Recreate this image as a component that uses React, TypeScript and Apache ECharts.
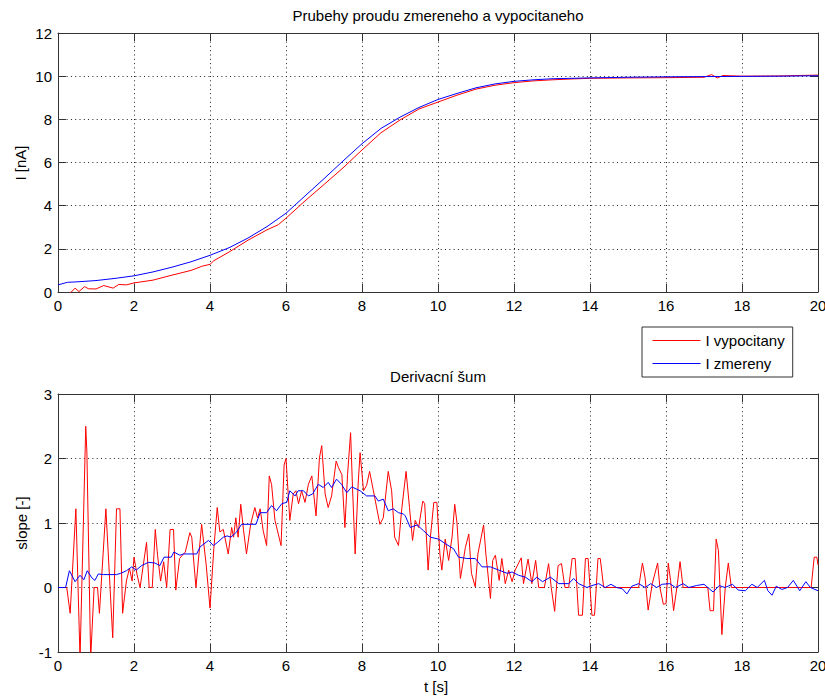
import React, { useEffect, useRef } from "react";
import * as echarts from "echarts";

// ---- Top plot: current (I [nA]) ----
const topBlueT = [0, 0.25, 0.5, 1, 1.5, 2, 2.5, 3, 3.5, 4, 4.5, 5, 5.5, 6, 6.5, 7, 7.5, 8, 8.5, 9, 9.5, 10, 10.5, 11, 11.5, 12, 12.5, 13, 14, 15, 16, 17, 18, 19, 20];
const topBlueV = [0.33, 0.45, 0.47, 0.53, 0.63, 0.75, 0.93, 1.15, 1.4, 1.7, 2.05, 2.5, 3.03, 3.65, 4.45, 5.25, 6.07, 6.87, 7.58, 8.1, 8.55, 8.92, 9.2, 9.46, 9.64, 9.76, 9.83, 9.88, 9.92, 9.95, 9.97, 9.98, 9.99, 10.0, 10.02];

const topRedT = [0, 0.2, 0.35, 0.45, 0.55, 0.7, 0.8, 1.0, 1.2, 1.45, 1.6, 1.8, 2, 2.5, 3, 3.5, 3.8, 4, 4.1, 4.5, 5, 5.5, 5.8, 6, 6.5, 7, 7.5, 8, 8.5, 9, 9.5, 10, 10.5, 11, 11.5, 12, 12.5, 13, 13.5, 14, 15, 16, 17, 17.2, 17.35, 17.5, 18, 19, 20];
const topRedV = [-0.3, -0.15, 0, 0.18, 0.02, 0.25, 0.15, 0.14, 0.3, 0.18, 0.35, 0.33, 0.42, 0.55, 0.78, 1.0, 1.2, 1.28, 1.45, 1.85, 2.4, 2.88, 3.12, 3.42, 4.22, 4.98, 5.75, 6.58, 7.38, 7.97, 8.48, 8.8, 9.12, 9.4, 9.58, 9.7, 9.78, 9.83, 9.87, 9.9, 9.92, 9.93, 9.95, 10.07, 9.92, 10.03, 10.0, 10.01, 10.05];

// ---- Bottom plot: slope ----
const slopeRedT = [0, 0.23, 0.32, 0.47, 0.58, 0.73, 0.76, 0.86, 0.95, 1.04, 1.09, 1.26, 1.44, 1.54, 1.63, 1.7, 1.8, 1.88, 1.95, 2.0, 2.08, 2.16, 2.33, 2.4, 2.48, 2.56, 2.62, 2.7, 2.78, 2.86, 2.95, 3.04, 3.1, 3.2, 3.35, 3.47, 3.52, 3.63, 3.78, 3.9, 4.0, 4.1, 4.19, 4.26, 4.35, 4.48, 4.57, 4.62, 4.68, 4.74, 4.81, 4.88, 4.96, 5.07, 5.18, 5.25, 5.32, 5.4, 5.49, 5.56, 5.62, 5.71, 5.87, 5.95, 6.0, 6.1, 6.19, 6.26, 6.33, 6.41, 6.5, 6.59, 6.68, 6.79, 6.88, 6.94, 7.03, 7.11, 7.2, 7.32, 7.38, 7.47, 7.55, 7.62, 7.7, 7.75, 7.82, 7.9, 7.95, 8.04, 8.12, 8.2, 8.3, 8.47, 8.56, 8.69, 8.78, 8.86, 8.96, 9.05, 9.16, 9.25, 9.33, 9.4, 9.49, 9.6, 9.65, 9.74, 9.8, 9.89, 9.97, 10.05, 10.1, 10.19, 10.28, 10.37, 10.44, 10.5, 10.59, 10.72, 10.81, 10.88, 10.98, 11.05, 11.2, 11.26, 11.38, 11.44, 11.51, 11.61, 11.68, 11.77, 11.86, 11.95, 12.03, 12.19, 12.25, 12.37, 12.47, 12.57, 12.65, 12.8, 12.91, 12.98, 13.07, 13.16, 13.25, 13.34, 13.44, 13.53, 13.61, 13.7, 13.8, 13.88, 13.95, 14.05, 14.12, 14.21, 14.27, 14.36, 15.28, 15.38, 15.45, 15.53, 15.64, 15.78, 15.84, 15.93, 16.0, 16.06, 16.12, 16.2, 16.3, 16.37, 16.45, 17.1, 17.16, 17.25, 17.32, 17.38, 17.47, 17.56, 17.64, 17.72, 19.82, 19.9, 19.97, 20];
const slopeRedV = [0, 0, -0.4, 1.22, -1.1, 2.5, 2.1, -1.1, 0, 0, -0.4, 1.22, -0.78, 1.22, 1.22, -0.4, 0.1, 0.3, 0.1, 0.47, 0.2, 0, 0.7, 0, 0, 0.9, 0.5, 0.1, 0.4, 0, 0.9, 0.9, -0.04, 0.45, 0.55, 0.85, 0.78, 0, 0.98, 0.35, -0.32, 0.6, 1.24, 0.86, 0.9, 0.52, 0.93, 0.78, 1.08, 0.78, 1.29, 0.9, 0.52, 0.98, 1.24, 1.08, 1.22, 0.88, 0.65, 1.73, 1.6, 1.04, 0.65, 1.9, 2.0, 1.04, 1.45, 1.5, 1.3, 1.5, 1.32, 1.6, 1.73, 1.11, 2.01, 2.2, 1.45, 1.24, 1.42, 1.96, 1.86, 1.75, 0.93, 1.75, 2.4, 1.55, 0.52, 1.62, 2.09, 1.5, 1.58, 1.8, 1.5, 0.98, 1.08, 1.8, 1.5, 0.78, 0.65, 1.24, 1.8, 1.24, 0.73, 1.04, 0.93, 1.34, 1.3, 0.27, 0.78, 1.32, 1.32, 0.52, 0.27, 0.75, 0.42, 0.78, 1.29, 1.0, 0.14, 0.62, 0.83, 0.22, 0.01, 0.52, 0.97, 0.52, -0.17, 0.42, 0.5, 0.11, 0.45, 0.06, 0.27, 0.09, 0.27, 0.46, 0.06, 0.44, 0.06, 0.42, 0, 0, 0.37, 0, -0.37, 0.34, 0.37, 0, 0, 0.45, 0.45, -0.43, -0.43, 0.45, 0.45, -0.43, -0.43, 0.45, 0.45, 0, 0, 0.38, 0.15, -0.35, 0.06, 0.38, 0, -0.26, -0.25, 0.38, 0.11, -0.36, 0.06, 0.4, 0, 0, -0.36, -0.36, 0.75, 0.57, -0.73, 0, 0.38, 0, 0, 0.47, 0.47, 0.35];

const slopeBlueT = [0, 0.2, 0.3, 0.45, 0.58, 0.68, 0.77, 0.89, 0.97, 1.06, 1.2, 1.54, 1.65, 1.8, 1.94, 2.06, 2.2, 2.38, 2.55, 2.68, 2.79, 2.98, 3.05, 3.21, 3.3, 3.65, 3.74, 3.96, 4.09, 4.2, 4.35, 4.45, 4.55, 4.7, 4.83, 5.21, 5.32, 5.49, 5.62, 5.75, 5.89, 6.02, 6.1, 6.24, 6.32, 6.46, 6.59, 6.7, 6.85, 6.98, 7.11, 7.2, 7.33, 7.46, 7.6, 7.73, 7.95, 8.12, 8.34, 8.43, 8.56, 8.69, 8.82, 8.96, 9.09, 9.14, 9.27, 9.45, 9.62, 9.8, 10.02, 10.19, 10.41, 10.54, 10.76, 10.98, 11.16, 11.38, 11.6, 11.82, 11.95, 12.12, 12.3, 12.47, 12.6, 12.75, 12.96, 13.18, 13.44, 13.57, 13.7, 13.92, 14.05, 14.23, 14.4, 14.55, 14.7, 14.85, 14.97, 15.1, 15.28, 15.45, 15.6, 15.75, 15.9, 16.1, 16.25, 16.45, 16.6, 16.8, 17.0, 17.24, 17.4, 17.55, 17.75, 17.9, 18.09, 18.26, 18.4, 18.59, 18.68, 18.79, 18.9, 19.05, 19.2, 19.35, 19.52, 19.68, 19.8, 20];
const slopeBlueV = [0, 0, 0.26, 0.09, 0.19, 0.12, 0.26, 0.15, 0.11, 0.21, 0.2, 0.2, 0.22, 0.26, 0.32, 0.27, 0.34, 0.39, 0.38, 0.34, 0.47, 0.47, 0.55, 0.5, 0.52, 0.52, 0.63, 0.73, 0.65, 0.7, 0.78, 0.8, 0.78, 0.86, 0.98, 0.98, 1.16, 1.16, 1.27, 1.19, 1.3, 1.32, 1.5, 1.42, 1.5, 1.5, 1.42, 1.45, 1.6, 1.55, 1.63, 1.55, 1.68, 1.6, 1.47, 1.56, 1.5, 1.42, 1.42, 1.34, 1.37, 1.19, 1.22, 1.16, 1.14, 1.11, 0.93, 0.97, 0.88, 0.78, 0.75, 0.68, 0.6, 0.47, 0.45, 0.45, 0.32, 0.32, 0.27, 0.22, 0.24, 0.19, 0.16, 0.09, 0.16, 0.09, 0.16, 0.06, 0.06, 0.14, 0.06, 0, 0.03, 0.06, 0, 0.05, 0, -0.02, -0.1, 0.02, 0.06, 0, 0.06, 0, 0.05, 0.06, 0, 0.06, 0, 0.03, 0.05, -0.07, 0.03, 0, 0.05, -0.04, -0.05, 0.05, 0, 0.11, -0.05, -0.12, 0.02, -0.03, 0, 0.11, -0.05, 0.09, 0, -0.05];

const seriesNames = ["I vypocitany", "I zmereny"];
const xTicks = { min: 0, max: 20, interval: 2 };
const topYTicks = { min: 0, max: 12, interval: 2 };
const botYTicks = { min: -1, max: 3, interval: 1 };

const pairs = (t: number[], v: number[]) => t.map((x, i) => [x, v[i]]);

const FONT = "'Liberation Sans', Arial, Helvetica, sans-serif";
const AXIS_COLOR = "#333";

function axisDef(gridIndex: number, position: string, labels: boolean, ticks: any) {
  return {
    type: "value",
    gridIndex,
    position,
    ...ticks,
    axisLine: { show: true, onZero: false, lineStyle: { color: AXIS_COLOR, width: 1 } },
    axisTick: { show: true, inside: true, length: 8, lineStyle: { color: AXIS_COLOR } },
    axisLabel: { show: labels, fontSize: 15, color: "#000", fontFamily: FONT, margin: 6 },
    splitLine: labels
      ? { show: true, lineStyle: { color: "#222", type: [1, 3.3], width: 1 } }
      : { show: false },
  };
}

export default function App() {
  const ref = useRef<HTMLDivElement>(null);
  useEffect(() => {
    if (!ref.current) return;
    const chart = echarts.init(ref.current, null, { renderer: "svg" });
    const lineSeries = (name: string, color: string, data: number[][], xi: number, yi: number) => ({
      type: "line",
      name,
      data,
      xAxisIndex: xi,
      yAxisIndex: yi,
      symbol: "none",
      showSymbol: false,
      clip: true,
      lineStyle: { color, width: 1 },
      itemStyle: { color },
    });
    chart.setOption({
      animation: false,
      backgroundColor: "#fff",
      textStyle: { fontFamily: FONT },
      grid: [
        { left: 58, top: 33, width: 760, height: 259, outerBoundsMode: "none", containLabel: false },
        { left: 58, top: 394, width: 760, height: 258, outerBoundsMode: "none", containLabel: false },
      ],
      xAxis: [
        axisDef(0, "bottom", true, xTicks),
        axisDef(0, "top", false, xTicks),
        axisDef(1, "bottom", true, xTicks),
        axisDef(1, "top", false, xTicks),
      ],
      yAxis: [
        axisDef(0, "left", true, topYTicks),
        axisDef(0, "right", false, topYTicks),
        axisDef(1, "left", true, botYTicks),
        axisDef(1, "right", false, botYTicks),
      ],
      legend: {
        data: seriesNames,
        orient: "vertical",
        left: 642,
        top: 327,
        padding: [6, 8, 6, 10],
        itemWidth: 48,
        itemHeight: 14,
        itemGap: 8,
        borderColor: "#333",
        borderWidth: 1,
        backgroundColor: "#fff",
        selectedMode: false,
        itemStyle: { opacity: 0 },
        lineStyle: { width: 1 },
        textStyle: { fontSize: 15, color: "#000", fontFamily: FONT },
      },
      graphic: [
        {
          type: "text",
          x: 438,
          y: 15.5,
          style: { text: "Prubehy proudu zmereneho a vypocitaneho", align: "center", verticalAlign: "middle", fontSize: 15, fontFamily: FONT, fill: "#000" },
        },
        {
          type: "text",
          x: 438,
          y: 376,
          style: { text: "Derivacní šum", align: "center", verticalAlign: "middle", fontSize: 15, fontFamily: FONT, fill: "#000" },
        },
        {
          type: "text",
          x: 20,
          y: 163,
          rotation: Math.PI / 2,
          style: { text: "I [nA]", align: "center", verticalAlign: "middle", fontSize: 15, fontFamily: FONT, fill: "#000" },
        },
        {
          type: "text",
          x: 21,
          y: 523,
          rotation: Math.PI / 2,
          style: { text: "slope [-]", align: "center", verticalAlign: "middle", fontSize: 15, fontFamily: FONT, fill: "#000" },
        },
        {
          type: "text",
          x: 436,
          y: 686,
          style: { text: "t [s]", align: "center", verticalAlign: "middle", fontSize: 15, fontFamily: FONT, fill: "#000" },
        },
      ],
      series: [
        lineSeries(seriesNames[0], "#ff0000", pairs(topRedT, topRedV), 0, 0),
        lineSeries(seriesNames[1], "#0000ff", pairs(topBlueT, topBlueV), 0, 0),
        lineSeries(seriesNames[0], "#ff0000", pairs(slopeRedT, slopeRedV), 2, 2),
        lineSeries(seriesNames[1], "#0000ff", pairs(slopeBlueT, slopeBlueV), 2, 2),
      ],
    });
    return () => chart.dispose();
  }, []);
  return (
    <div
      ref={ref}
      style={{ position: "absolute", left: 0, top: 0, width: 825, height: 697, background: "#fff" }}
    />
  );
}
